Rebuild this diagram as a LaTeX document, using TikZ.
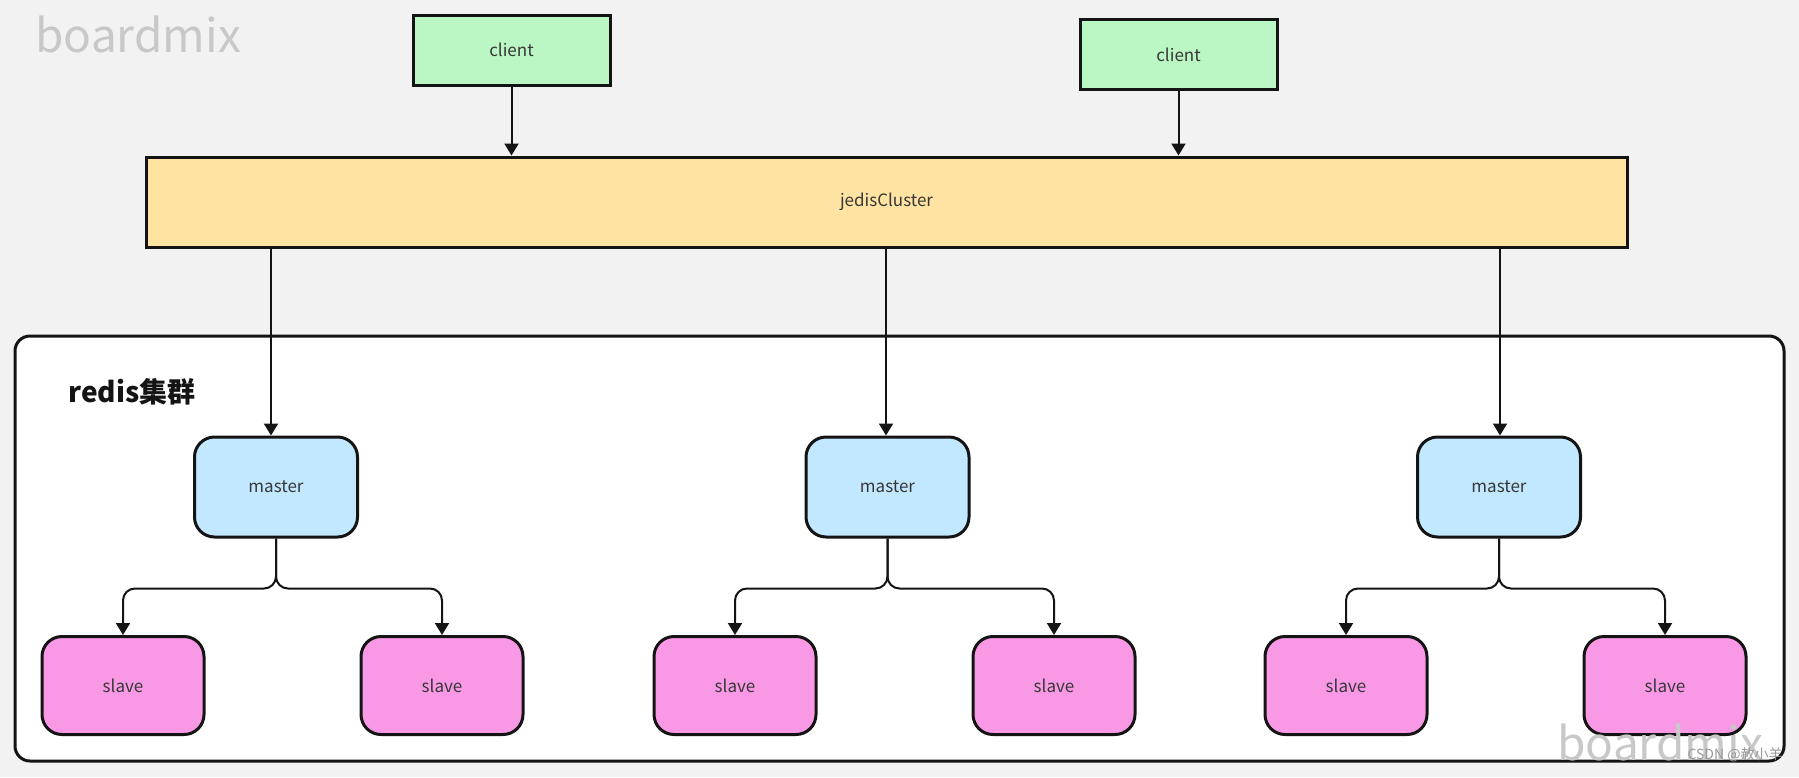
\documentclass[tikz,border=0pt]{standalone}
\usepackage{fontspec}
\setmainfont{Noto Sans CJK SC}
\usepackage{xcolor}
\definecolor{board-bg}{HTML}{F2F2F2}
\definecolor{board-ink}{HTML}{141414}
\definecolor{board-mark}{HTML}{C8C8C8}
\definecolor{client-green}{HTML}{BBF7C5}
\definecolor{jedis-yellow}{HTML}{FFE3A3}
\definecolor{master-blue}{HTML}{C2E8FF}
\definecolor{slave-pink}{HTML}{F999E6}
\usepackage{tikz}
\usetikzlibrary{arrows.meta}

\tikzset{
    box/.style={draw=board-ink, line width=1.5pt, text=board-ink!85, font=\fontsize{8.5pt}{10pt}\selectfont, inner sep=0pt},
    clientbox/.style={box, fill=client-green, minimum width=98.5pt, minimum height=35pt},
    jedisbox/.style={box, fill=jedis-yellow, minimum width=740.5pt, minimum height=45pt},
    masterbox/.style={box, fill=master-blue, rounded corners=10pt, minimum width=81.5pt, minimum height=50pt},
    slavebox/.style={box, fill=slave-pink, rounded corners=10pt, minimum width=81pt, minimum height=49pt},
    link/.style={draw=board-ink, line width=1pt, -{Triangle[width=7pt,length=6pt]}},
    branch/.style={link, rounded corners=6pt},
    watermark/.style={text=board-mark, font=\fontsize{23pt}{26pt}\selectfont, inner sep=0pt}
}

\begin{document}
\begin{tikzpicture}[x=0.5pt, y=-0.5pt]

    % Background
    \fill[board-bg] (0, 0) rectangle (1799, 777);
    \useasboundingbox (0, 0) rectangle (1799, 777);

    % Cluster frame
    \draw[board-ink, fill=white, line width=1.5pt, rounded corners=7.5pt] (15, 336) rectangle (1784, 761);
    \node[anchor=west, inner sep=0pt, text=board-ink, font=\bfseries\fontsize{14pt}{16pt}\selectfont] (title) at (68, 392) {redis集群};

    % Clients and jedisCluster
    \node[clientbox] (c1) at (511.5, 50) {client};
    \node[clientbox] (c2) at (1178.5, 54.5) {client};
    \node[jedisbox] (jc) at (886.5, 202) {\raisebox{-1.5pt}{jedisCluster}};

    % Masters
    \node[masterbox] (m1) at (276, 487) {master};
    \node[masterbox] (m2) at (887.5, 487) {master};
    \node[masterbox] (m3) at (1499, 487) {master};

    % Slaves
    \node[slavebox] (s1) at (123, 685.5) {slave};
    \node[slavebox] (s2) at (442, 685.5) {slave};
    \node[slavebox] (s3) at (735, 685.5) {slave};
    \node[slavebox] (s4) at (1054, 685.5) {slave};
    \node[slavebox] (s5) at (1346, 685.5) {slave};
    \node[slavebox] (s6) at (1665, 685.5) {slave};

    % Arrows
    \draw[link] (c1.south) -- (c1.south |- jc.north);
    \draw[link] (c2.south) -- (c2.south |- jc.north);
    \foreach \m/\dx in {m1/-2.5pt, m2/-0.75pt, m3/0.5pt}
        \draw[link] ([xshift=\dx]\m.north |- jc.south) -- ([xshift=\dx]\m.north);
    \foreach \m/\a/\b in {m1/s1/s2, m2/s3/s4, m3/s5/s6} {
        \draw[branch] (\m.south) -- ([yshift=-25pt]\m.south) -| (\a.north);
        \draw[branch] (\m.south) -- ([yshift=-25pt]\m.south) -| (\b.north);
    }

    % Watermarks
    \node[watermark, anchor=base west] (wm1) at (35, 52) {boardmix};
    \node[watermark, anchor=base west] (wm2) at (1557, 760) {boardmix};
    \node[anchor=base east, inner sep=0pt, text=black!40, font=\fontsize{7pt}{8pt}\selectfont] (csdn) at (1783, 759) {CSDN @赦小羊};

\end{tikzpicture}
\end{document}
